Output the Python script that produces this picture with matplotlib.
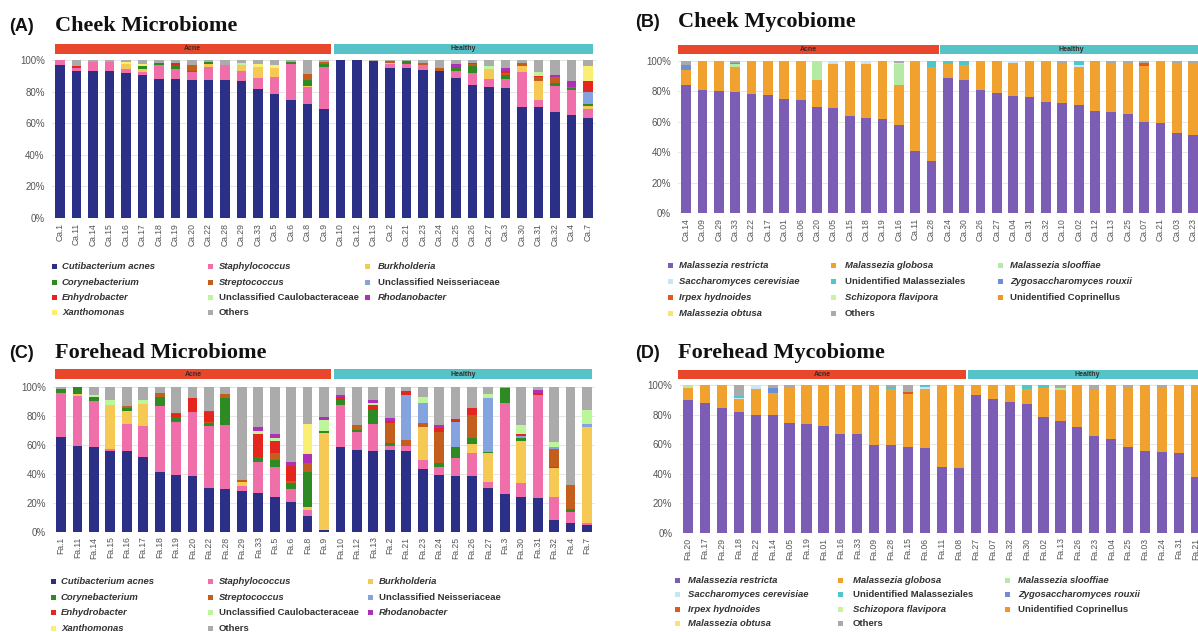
import matplotlib
matplotlib.use("Agg")
import matplotlib.pyplot as plt
import matplotlib.transforms as mtransforms
from matplotlib.patches import Rectangle
import numpy as np

plt.rcParams["font.family"] = "Liberation Sans"

# ---------------------------------------------------------------- taxa
bac_taxa = ["Cutibacterium acnes", "Staphylococcus", "Burkholderia",
            "Corynebacterium", "Streptococcus", "Unclassified Neisseriaceae",
            "Enhydrobacter", "Unclassified Caulobacteraceae", "Rhodanobacter",
            "Xanthomonas", "Others"]
bac_italic = [True, True, True, True, True, False, True, False, True, True, False]
bac_colors = ["#2C2F86", "#F06EA9", "#F6C955", "#2E8B24", "#C45E1C", "#85A3DE",
              "#E4261F", "#BDF59B", "#B02FB8", "#FAEE74", "#ABABAB"]

fun_taxa = ["Malassezia restricta", "Malassezia globosa", "Malassezia slooffiae",
            "Saccharomyces cerevisiae", "Unidentified Malasseziales",
            "Zygosaccharomyces rouxii", "Irpex hydnoides", "Schizopora flavipora",
            "Unidentified Coprinellus", "Malassezia obtusa", "Others"]
fun_italic = [True, True, True, True, False, True, True, True, False, True, False]
fun_colors = ["#7B5DB5", "#F1A12E", "#B5EAA5", "#C6E6F7", "#4FC6CB", "#6D8ED6",
              "#E2581C", "#C9F3A0", "#F3951F", "#F9E470", "#AAAAAA"]

# ---------------------------------------------------------------- (A) cheek bacteria
a_samples = ["Ca.1", "Ca.11", "Ca.14", "Ca.15", "Ca.16", "Ca.17", "Ca.18", "Ca.19",
             "Ca.20", "Ca.22", "Ca.28", "Ca.29", "Ca.33", "Ca.5", "Ca.6", "Ca.8", "Ca.9",
             "Ca.10", "Ca.12", "Ca.13", "Ca.2", "Ca.21", "Ca.23", "Ca.24", "Ca.25",
             "Ca.26", "Ca.27", "Ca.3", "Ca.30", "Ca.31", "Ca.32", "Ca.4", "Ca.7"]
a_n_acne = 17
a_cuti = [97, 93, 93, 93, 92, 90.5, 88, 88, 87.4, 87.4, 87.2, 86.5, 81.7, 78.7, 74.5, 72, 69,
          100, 100, 99.2, 94.7, 94.7, 93.9, 93, 88.8, 84.2, 83.2, 82.1, 70.5, 70, 67.4, 65.3, 63.6]
a_staph = [3, 2, 6, 6, 2, 2, 9, 6, 4.8, 8.4, 9.7, 6.3, 6.7, 10.7, 23, 10.7, 26.7,
           0, 0, 0, 2.7, 2.7, 3, 0, 4.4, 7.4, 4.8, 5.9, 22, 5, 16.2, 15.4, 5.5]
a_burk = [0, 0, 0, 0, 3.5, 2, 0, 0, 0, 1.5, 0, 4, 7.4, 5.3, 0, 1, 0,
          0, 0, 0, 1, 0, 0, 0, 0, 0, 6.3, 0, 3.6, 11.5, 0, 0, 1.9]
a_cory = [0, 0, 0, 0, 0, 1.5, 1, 3, 1, 1.2, 0, 0, 0, 0, 1.5, 3.6, 2,
          0, 0, 0, 0, 1.7, 0, 0, 2.5, 4.8, 0, 2.5, 0, 0, 1.7, 1.3, 1]
a_strep = [0, 0, 0, 0, 0, 0, 0, 0, 3.6, 0, 0, 0, 0, 0, 0, 3.8, 1,
           0, 0, 0, 1, 0, 1.5, 2, 0, 1, 0, 1.5, 1.7, 2.5, 3.8, 0.8, 0]
a_neis = [0, 0, 0, 0, 0, 0, 0, 0, 0, 0, 0, 0, 0, 0, 0, 0, 0,
          0, 0, 0, 0, 0, 0, 0, 0, 0, 0, 0, 0, 0, 0, 0, 7.6]
a_enhy = [0, 1, 0, 0, 0, 0, 0, 1.2, 0, 0, 0, 0, 0, 0, 0, 0, 0,
          0, 0, 0, 0, 0, 0, 0, 0, 0, 0, 1.3, 0, 1, 0, 0, 7.2]
a_caulo = [0, 0, 0, 0, 0, 0, 0, 0, 0, 0, 0, 1.5, 0, 0, 0, 0, 0,
           0, 0, 0, 0, 0, 0, 0, 0, 0, 1.9, 0, 0, 2.5, 0, 0, 0]
a_rhod = [0, 0, 0, 0, 0, 0, 0, 0, 0, 0, 0, 0, 0, 0, 0, 0, 0,
          0, 0, 0, 0, 0, 0, 0, 1.5, 0.8, 0, 1.5, 0, 0, 1.5, 3.6, 0]
a_xan = [0, 0, 0, 0, 1, 1.5, 0, 0, 0, 0, 0, 0, 1.5, 2, 0, 0, 0,
         0, 0, 0, 0, 0, 0, 0, 0, 0, 0, 0, 0, 0, 0, 0, 9.5]
a_oth = [0, 4, 1, 1, 1.5, 2.5, 2, 1.8, 3.2, 1.5, 3.1, 1.7, 2.7, 3.3, 1, 8.9, 1.3,
         0, 0, 0.8, 0.6, 0.9, 1.6, 5, 2.8, 1.8, 3.8, 5.2, 2.2, 7.5, 9.4, 13.6, 3.7]

# ---------------------------------------------------------------- (B) cheek fungi
b_samples = ["Ca.14", "Ca.09", "Ca.29", "Ca.33", "Ca.22", "Ca.17", "Ca.01", "Ca.06",
             "Ca.20", "Ca.05", "Ca.15", "Ca.18", "Ca.19", "Ca.16", "Ca.11", "Ca.28",
             "Ca.24", "Ca.30", "Ca.26", "Ca.27", "Ca.04", "Ca.31", "Ca.32", "Ca.10",
             "Ca.02", "Ca.12", "Ca.13", "Ca.25", "Ca.07", "Ca.21", "Ca.03", "Ca.23"]
b_n_acne = 16
b_res = [84.2, 81, 80.5, 79.6, 78.3, 77.7, 75.3, 74.4, 70, 68.9, 64.1, 62.8, 62.1, 57.8, 40.5, 34.4,
         89.1, 87.5, 81, 79.2, 77, 76.1, 73.3, 72.6, 71.1, 67.4, 66.7, 65, 60, 58.9, 52.5, 51.4]
b_glo = [9.8, 19, 19.5, 16.6, 21.7, 22.3, 24.7, 25.6, 17.5, 29.1, 35.9, 35.2, 37.2, 26.5, 59.5, 61.9,
         9, 9.9, 19, 19.9, 21.9, 23.9, 26.7, 25.4, 24.8, 31.9, 31.7, 33.9, 37, 41.1, 46.4, 47]
b_slo = [0, 0, 0, 1.5, 0, 0, 0, 0, 12.5, 0, 0, 0, 0, 13.6, 0, 0,
         0, 0, 0, 0, 0, 0, 0, 0, 0, 0, 0, 0, 0, 0, 0, 0]
b_sac = [0, 0, 0, 0, 0, 0, 0, 0, 0, 2, 0, 2, 0, 0, 0, 0,
         0, 0, 0, 0, 1.1, 0, 0, 0, 1.3, 0, 0, 0, 0, 0, 0, 0]
b_unm = [0, 0, 0, 0, 0, 0, 0, 0, 0, 0, 0, 0, 0, 0, 0, 3.7,
         1.9, 2.6, 0, 0, 0, 0, 0, 0, 2.8, 0.7, 0, 0, 0, 0, 0, 0]
b_zyg = [3.5, 0, 0, 1, 0, 0, 0, 0, 0, 0, 0, 0, 0, 0, 0, 0,
         0, 0, 0, 0, 0, 0, 0, 0, 0, 0, 0, 0, 0, 0, 0, 0]
b_irp = [0, 0, 0, 0, 0, 0, 0, 0, 0, 0, 0, 0, 0, 0, 0, 0,
         0, 0, 0, 0, 0, 0, 0, 0, 0, 0, 0, 0, 2, 0, 0, 0]
b_sch = [0] * 32
b_cop = [0] * 32
b_obt = [0, 0, 0, 0, 0, 0, 0, 0, 0, 0, 0, 0, 0, 1, 0, 0,
         0, 0, 0, 0, 0, 0, 0, 0, 0, 0, 0, 0, 0, 0, 0, 0]
b_oth = [2.5, 0, 0, 1.3, 0, 0, 0, 0, 0, 0, 0, 0, 0.7, 1.1, 0, 0,
         0, 0, 0, 0.9, 0, 0, 0, 2, 0, 0, 1.6, 1.1, 1, 0, 1.1, 1.6]

# ---------------------------------------------------------------- (C) forehead bacteria
c_samples = ["Fa.1", "Fa.11", "Fa.14", "Fa.15", "Fa.16", "Fa.17", "Fa.18", "Fa.19",
             "Fa.20", "Fa.22", "Fa.28", "Fa.29", "Fa.33", "Fa.5", "Fa.6", "Fa.8", "Fa.9",
             "Fa.10", "Fa.12", "Fa.13", "Fa.2", "Fa.21", "Fa.23", "Fa.24", "Fa.25",
             "Fa.26", "Fa.27", "Fa.3", "Fa.30", "Fa.31", "Fa.32", "Fa.4", "Fa.7"]
c_n_acne = 17
c_cuti = [65.5, 59.1, 58.6, 55.9, 55.9, 51.7, 41.4, 39.1, 38.4, 29.9, 29.4, 28.3, 26.9, 24.1, 20.7, 10.8, 1.1,
          58.6, 56.3, 55.9, 56.3, 55.9, 43, 39.1, 38.6, 38.6, 29.9, 25.7, 24.1, 23, 8, 6.2, 4.6]
c_staph = [30.3, 34.5, 31.7, 1.4, 18.4, 21.1, 45.3, 36.8, 44.4, 43, 44.1, 3.2, 20.9, 20.2, 8.5, 4.1, 0,
           28.7, 12.6, 18.4, 2.8, 3.4, 6.4, 5.3, 12.4, 15.4, 4.1, 63.2, 9.2, 71.3, 15.6, 7.6, 1.1]
c_burk = [0, 1.4, 0, 30.1, 9, 15.6, 0, 0, 0, 0, 0, 3, 0, 0, 0, 2.3, 66.7,
          0, 0, 0, 0, 0, 23, 0, 0, 6.4, 20, 0, 29.4, 0, 20, 0, 66.7]
c_cory = [2.5, 5, 2.8, 0, 1.8, 0, 6.4, 3, 0, 1.8, 18.4, 0, 3.4, 5, 4.1, 24.1, 1.8,
          3.4, 1.1, 9.7, 1.8, 0, 0, 2.8, 7.6, 3.9, 1.1, 9.9, 1.6, 0, 1.1, 1.6, 0]
c_strep = [0, 0, 0, 0, 1.6, 0, 2.8, 0, 0, 1, 3.4, 1.5, 0, 5, 1.8, 6.2, 0,
           0, 3.4, 0, 14.3, 3.9, 2.8, 21.8, 0, 16.1, 0, 0, 0, 0, 12.2, 16.8, 0]
c_neis = [0, 0, 0, 0, 0, 0, 0, 0, 0, 0, 0, 0, 0, 0, 0, 0, 0,
          0, 0, 0, 0, 31, 13.8, 0, 16.8, 0, 36.8, 0, 1.6, 0, 1.6, 0, 1.8]
c_enhy = [0, 0, 0, 0, 0, 0, 0, 2.3, 9.2, 6.9, 0, 0, 15.9, 8.3, 10.1, 0, 0,
          2.3, 0, 3.4, 1.4, 2.8, 0, 2.3, 2.1, 4.6, 0, 0, 1.8, 1.6, 0, 0, 0]
c_caulo = [0, 0, 1.2, 3.4, 0, 2.3, 0, 0, 0, 0, 0, 0, 2.5, 2.3, 0, 0, 7.6,
           0, 0, 1.5, 0, 0, 4.1, 0, 0, 0, 3, 0, 5.7, 0, 3.4, 0, 9.7]
c_rhod = [0, 0, 0, 0, 0, 0, 0, 0.9, 0, 0.8, 0, 0, 2.8, 2.8, 3, 6.4, 1.8,
          1.6, 0, 1.8, 1.6, 0, 0, 2.3, 0, 0, 0, 0, 0, 1.8, 0, 0, 0]
c_xan = [0, 0, 0, 0, 0, 0, 0, 0, 0, 0, 0, 0, 0, 0, 0, 20.2, 0,
         0, 0, 0, 0, 0, 0, 0, 0, 0, 0, 0, 0, 0, 0, 0, 0]
c_oth = [1.7, 0, 5.7, 9.2, 13.3, 9.3, 4.1, 17.9, 8, 16.6, 4.7, 64, 27.6, 32.3, 51.8, 25.9, 21,
         5.4, 26.6, 9.3, 21.8, 3, 6.9, 26.4, 22.5, 15, 5.1, 1.2, 26.6, 2.3, 38.1, 67.8, 16.1]

# ---------------------------------------------------------------- (D) forehead fungi
d_samples = ["Fa.20", "Fa.17", "Fa.29", "Fa.18", "Fa.22", "Fa.14", "Fa.05", "Fa.19",
             "Fa.01", "Fa.16", "Fa.33", "Fa.09", "Fa.28", "Fa.15", "Fa.06", "Fa.11", "Fa.08",
             "Fa.27", "Fa.07", "Fa.32", "Fa.30", "Fa.02", "Fa.13", "Fa.26", "Fa.23",
             "Fa.04", "Fa.25", "Fa.03", "Fa.24", "Fa.31", "Fa.21"]
d_n_acne = 17
d_res = [89.6, 87.5, 84.1, 81.6, 79.6, 79.4, 74.1, 73.5, 72.1, 66.7, 66.7, 59.6, 59.2, 58, 57.1, 44.4, 43.5,
         93, 90.7, 88.4, 86.8, 78.5, 75.5, 71.7, 65.8, 63.7, 58, 55.1, 54.4, 53.7, 37.4]
d_glo = [8.2, 12.5, 15.9, 8.6, 17.9, 15.4, 23.6, 26.5, 27.9, 33.3, 32.7, 40.4, 37.9, 35.6, 40.4, 55.6, 55.8,
         7, 9.3, 11.6, 10.7, 19.7, 21.1, 28.3, 30.8, 36.3, 39.7, 44.9, 43.3, 46.3, 62.6]
d_slo = [2.2, 0, 0, 0, 0, 0, 0, 0, 0, 0, 0, 0, 0, 0, 0, 0, 0,
         0, 0, 0, 0, 0, 1.1, 0, 0, 0, 0, 0, 0, 0, 0]
d_sac = [0, 0, 0, 1.2, 2.5, 0, 0, 0, 0, 0, 0, 0, 0, 0, 1.1, 0, 0,
         0, 0, 0, 0, 0, 0, 0, 0, 0, 0, 0, 0, 0, 0]
d_unm = [0, 0, 0, 1.0, 0, 0, 0, 0, 0, 0, 0, 0, 1.8, 0, 1.4, 0, 0,
         0, 0, 0, 2.5, 1.8, 0, 0, 0, 0, 0, 0, 0, 0, 0]
d_zyg = [0, 0, 0, 0, 0, 2.9, 0, 0, 0, 0, 0, 0, 0, 0, 0, 0, 0,
         0, 0, 0, 0, 0, 0, 0, 0, 0, 0, 0, 0, 0, 0]
d_irp = [0, 0, 0, 0, 0, 0, 0, 0, 0, 0, 0, 0, 0, 1.5, 0, 0, 0,
         0, 0, 0, 0, 0, 0, 0, 0, 0, 0, 0, 0, 0, 0]
d_sch = [0] * 31
d_cop = [0] * 31
d_obt = [0] * 31
d_oth = [0, 0, 0, 7.6, 0, 2.3, 2.3, 0, 0, 0, 0.6, 0, 1.1, 4.9, 0, 0, 0.7,
         0, 0, 0, 0, 0, 2.3, 0, 3.4, 0, 2.3, 0, 2.3, 0, 0]

a_series = [a_cuti, a_staph, a_burk, a_cory, a_strep, a_neis, a_enhy, a_caulo, a_rhod, a_xan, a_oth]
b_series = [b_res, b_glo, b_slo, b_sac, b_unm, b_zyg, b_irp, b_sch, b_cop, b_obt, b_oth]
c_series = [c_cuti, c_staph, c_burk, c_cory, c_strep, c_neis, c_enhy, c_caulo, c_rhod, c_xan, c_oth]
d_series = [d_res, d_glo, d_slo, d_sac, d_unm, d_zyg, d_irp, d_sch, d_cop, d_obt, d_oth]

# ---------------------------------------------------------------- drawing
W, H = 1198, 632
fig = plt.figure(figsize=(W / 100, H / 100), dpi=100)
fig.patch.set_facecolor("white")

ACNE_COLOR = "#E8472B"
HEALTHY_COLOR = "#55C3C8"
TEXT_GRAY = "#555555"


def px_axes(left, top, right, bottom):
    return fig.add_axes([left / W, 1 - bottom / H, (right - left) / W, (bottom - top) / H])


def draw_panel(rect, samples, series, colors, n_acne, xlim, hdr_px, acne_span, healthy_span):
    left, top, right, bottom = rect
    ax = px_axes(left, top, right, bottom)
    x = np.arange(len(samples))
    base = np.zeros(len(samples))
    for vals, col in zip(series, colors):
        v = np.asarray(vals, dtype=float)
        ax.bar(x, v, bottom=base, width=0.6, color=col, linewidth=0, zorder=2)
        base += v
    ax.set_xlim(*xlim)
    ax.set_ylim(0, 100)
    ax.set_yticks([0, 20, 40, 60, 80, 100])
    ax.set_yticklabels(["0%", "20%", "40%", "60%", "80%", "100%"])
    ax.set_xticks(x)
    ax.set_xticklabels(samples, rotation=90)
    ax.tick_params(axis="y", length=0, pad=5, labelsize=7, labelcolor=TEXT_GRAY)
    ax.tick_params(axis="x", length=0, pad=3.5, labelsize=6.2, labelcolor=TEXT_GRAY)
    for s in ax.spines.values():
        s.set_visible(False)
    ax.yaxis.grid(True, color="#E6E6E6", linewidth=0.7)
    ax.set_axisbelow(True)

    # group header strips above the bars
    trans = mtransforms.blended_transform_factory(ax.transData, ax.transAxes)
    h_top, h_bot = hdr_px
    y0 = (bottom - h_bot) / (bottom - top)
    y1 = (bottom - h_top) / (bottom - top)
    for (xa, xb), col, lab in [(acne_span, ACNE_COLOR, "Acne"),
                               (healthy_span, HEALTHY_COLOR, "Healthy")]:
        ax.add_patch(Rectangle((xa, y0), xb - xa, y1 - y0, transform=trans,
                               facecolor=col, edgecolor="none", clip_on=False, zorder=3))
        ax.text((xa + xb) / 2, (y0 + y1) / 2, lab, transform=trans, ha="center",
                va="center", fontsize=5, fontweight="bold", color="#3A2A2A", zorder=4)
    return ax


def draw_title(x_letter, x_title, baseline, letter, title):
    fig.text(x_letter / W, 1 - baseline / H, letter, fontsize=13, fontweight="bold",
             family="Liberation Sans", va="baseline", ha="left", color="#111111")
    fig.text(x_title / W, 1 - baseline / H, title, fontsize=16, fontweight="bold",
             family="Liberation Serif", va="baseline", ha="left", color="#111111")


def draw_legend(taxa, colors, italic, rows_y, marker_x, text_x, size=5):
    for i, (name, col, it) in enumerate(zip(taxa, colors, italic)):
        r, c = divmod(i, 3)
        y = rows_y[r]
        mx = marker_x[c]
        fig.add_artist(Rectangle(((mx - size / 2) / W, 1 - (y + size / 2) / H),
                                 size / W, size / H, transform=fig.transFigure,
                                 facecolor=col, edgecolor="none"))
        fig.text(text_x[c] / W, 1 - y / H, name, fontsize=6.8, fontweight="bold",
                 fontstyle="italic" if it else "normal", color="#333333",
                 va="center", ha="left")


# (A) Cheek Microbiome
draw_panel((51.75, 60, 596.25, 218), a_samples, a_series, bac_colors, a_n_acne,
           (-0.5, 32.5), (44, 54), (-0.3, 16.4), (16.6, 32.3))
draw_title(9, 55, 31, "(A)", "Cheek Microbiome")
draw_legend(bac_taxa, bac_colors, bac_italic, [266.3, 282.3, 297.3, 312.3],
            [54, 210, 367], [62, 219, 378])

# (B) Cheek Mycobiome
draw_panel((678, 61, 1201.3, 213), b_samples, b_series, fun_colors, b_n_acne,
           (-0.5, 31.5), (45, 54), (-0.5, 15.45), (15.55, 31.6))
draw_title(635, 678, 27, "(B)", "Cheek Mycobiome")
draw_legend(fun_taxa, fun_colors, fun_italic, [265.7, 281.7, 297.7, 313.3],
            [670, 833, 1000.7], [679.3, 845, 1010])

# (C) Forehead Microbiome
draw_panel((52.8, 386.7, 595.2, 531.7), c_samples, c_series, bac_colors, c_n_acne,
           (-0.5, 32.5), (369, 379), (-0.35, 16.4), (16.6, 32.3))
draw_title(9, 55, 358, "(C)", "Forehead Microbiome")
draw_legend(bac_taxa, bac_colors, bac_italic, [581.7, 597.7, 612.3, 628.3],
            [53.3, 210.7, 370], [61, 219, 379])

# (D) Forehead Mycobiome
draw_panel((679.5, 385, 1204.4, 532.7), d_samples, d_series, fun_colors, d_n_acne,
           (-0.5, 30.5), (370, 379), (-0.6, 16.42), (16.54, 30.6))
draw_title(635, 678, 358, "(D)", "Forehead Mycobiome")
draw_legend(fun_taxa, fun_colors, fun_italic, [580.7, 594.3, 609, 623.3],
            [677.3, 840.7, 1007.3], [688.3, 852.7, 1018.3])

fig.savefig("out.png", dpi=100, facecolor="white")
